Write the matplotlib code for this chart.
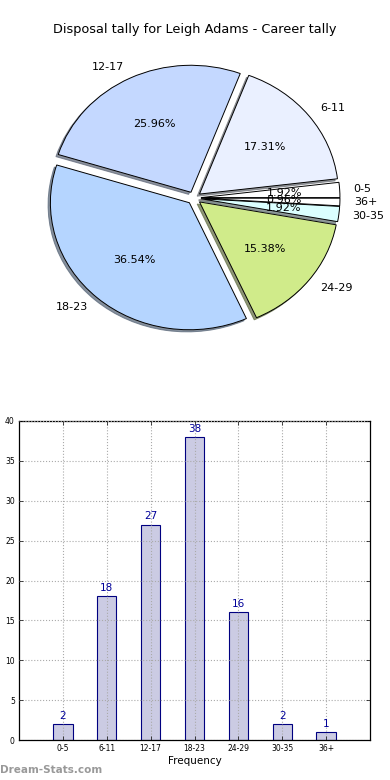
import matplotlib
matplotlib.use("Agg")
import matplotlib.pyplot as plt

categories = ["0-5", "6-11", "12-17", "18-23", "24-29", "30-35", "36+"]
counts = [2, 18, 27, 38, 16, 2, 1]
pie_colors = ["#ffffff", "#eaf0ff", "#c4d8ff", "#b5d5ff", "#d0eb8a", "#dbffff", "#ffffff"]
yticks = [0, 5, 10, 15, 20, 25, 30, 35, 40]

W, H = 390, 780
fig = plt.figure(figsize=(3.9, 7.8), dpi=100)

def px_axes(x0, y0, x1, y1):
    return fig.add_axes([x0 / W, 1 - y1 / H, (x1 - x0) / W, (y1 - y0) / H])

# Title
fig.text(195 / W, 1 - 30 / H, "Disposal tally for Leigh Adams - Career tally",
         ha="center", va="center", fontsize=9.3)

# Pie
ax = px_axes(0, 50, 390, 346)
cx, cy = 194, 198
rx, ry = 139, 127
wedges, texts, autotexts = ax.pie(
    counts, labels=categories, colors=pie_colors, explode=[0.05] * len(counts),
    autopct="%.2f%%", startangle=0, counterclock=True,
    shadow={"ox": -0.012, "oy": -0.012, "shade": 0.55, "alpha": 0.7},
    wedgeprops=dict(edgecolor="black", linewidth=0.7),
    textprops=dict(fontsize=8))
ax.set_aspect("auto")
ax.set_xlim(-cx / rx, (390 - cx) / rx)
ax.set_ylim(-(346 - cy) / ry, (cy - 50) / ry)
ax.axis("off")

# Bar chart
bx = px_axes(19, 421, 370, 740)
x = list(range(len(categories)))
bars = bx.bar(x, counts, width=0.44, color="#cbcbe3", edgecolor="#000080", linewidth=0.8)
for xi, c in zip(x, counts):
    bx.text(xi, c + 0.4, str(c), ha="center", va="bottom", color="#000099", fontsize=7.5)
bx.set_xlim(-1, 7)
bx.set_ylim(0, 40)
bx.set_xticks(x)
bx.set_xticklabels(categories, fontsize=5.5)
bx.set_yticks(yticks)
bx.set_yticklabels([str(t) for t in yticks], fontsize=5.5)
bx.tick_params(direction="in", length=3, width=0.5, top=True, right=True, pad=3)
bx.grid(True, linestyle=":", color="#aaaaaa", linewidth=0.8)
bx.set_axisbelow(False)
bx.set_xlabel("Frequency", fontsize=7.5, labelpad=2)
for s in bx.spines.values():
    s.set_linewidth(0.9)

fig.text(0 / W, 1 - 770 / H, "Dream-Stats.com", ha="left", va="center",
         fontsize=7.5, color="#999999", fontweight="bold")

fig.savefig("out.png", dpi=100)
